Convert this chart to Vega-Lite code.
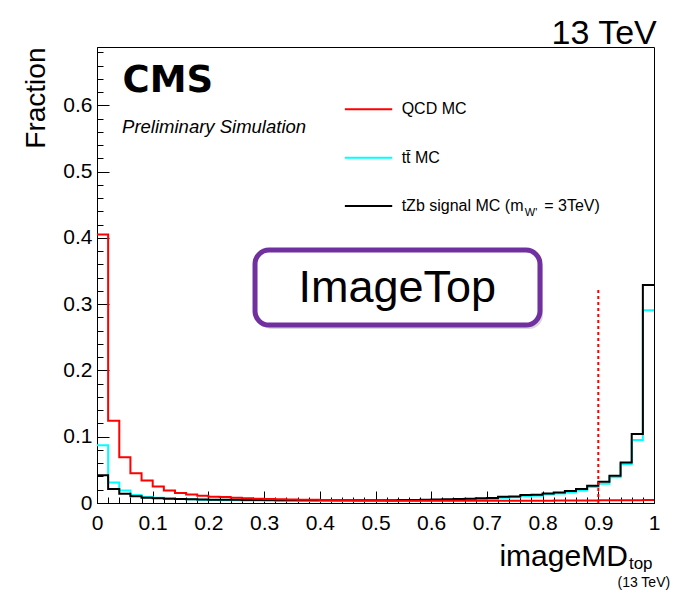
{
  "$schema": "https://vega.github.io/schema/vega-lite/v6.json",
  "width": 557,
  "height": 456,
  "autosize": {"type": "none"},
  "padding": {"left": 97, "top": 47, "right": 21, "bottom": 90},
  "background": "white",
  "config": {
    "view": {"stroke": "black", "strokeWidth": 1},
    "text": {"font": "Liberation Sans", "color": "black"},
    "axis": {"grid": false, "labelFont": "Liberation Sans", "titleFont": "Liberation Sans", "labelColor": "black", "titleColor": "black", "tickColor": "black", "domainColor": "black"}
  },
  "datasets": {
    "one": [{}],
    "hist": [
      {"x": 0.00, "qcd": 0.405, "ttbar": 0.087, "tzb": 0.042},
      {"x": 0.02, "qcd": 0.124, "ttbar": 0.031, "tzb": 0.021},
      {"x": 0.04, "qcd": 0.069, "ttbar": 0.019, "tzb": 0.014},
      {"x": 0.06, "qcd": 0.045, "ttbar": 0.012, "tzb": 0.010},
      {"x": 0.08, "qcd": 0.034, "ttbar": 0.009, "tzb": 0.008},
      {"x": 0.10, "qcd": 0.025, "ttbar": 0.008, "tzb": 0.007},
      {"x": 0.12, "qcd": 0.019, "ttbar": 0.007, "tzb": 0.0065},
      {"x": 0.14, "qcd": 0.015, "ttbar": 0.006, "tzb": 0.006},
      {"x": 0.16, "qcd": 0.013, "ttbar": 0.0055, "tzb": 0.0055},
      {"x": 0.18, "qcd": 0.011, "ttbar": 0.005, "tzb": 0.0052},
      {"x": 0.20, "qcd": 0.0095, "ttbar": 0.0045, "tzb": 0.005},
      {"x": 0.22, "qcd": 0.009, "ttbar": 0.0042, "tzb": 0.005},
      {"x": 0.24, "qcd": 0.008, "ttbar": 0.004, "tzb": 0.0048},
      {"x": 0.26, "qcd": 0.0072, "ttbar": 0.0038, "tzb": 0.0046},
      {"x": 0.28, "qcd": 0.0066, "ttbar": 0.0036, "tzb": 0.0045},
      {"x": 0.30, "qcd": 0.006, "ttbar": 0.0035, "tzb": 0.0044},
      {"x": 0.32, "qcd": 0.0058, "ttbar": 0.0034, "tzb": 0.0043},
      {"x": 0.34, "qcd": 0.0054, "ttbar": 0.0033, "tzb": 0.0042},
      {"x": 0.36, "qcd": 0.005, "ttbar": 0.0032, "tzb": 0.0041},
      {"x": 0.38, "qcd": 0.0048, "ttbar": 0.0031, "tzb": 0.004},
      {"x": 0.40, "qcd": 0.0045, "ttbar": 0.003, "tzb": 0.004},
      {"x": 0.42, "qcd": 0.0043, "ttbar": 0.003, "tzb": 0.004},
      {"x": 0.44, "qcd": 0.004, "ttbar": 0.003, "tzb": 0.004},
      {"x": 0.46, "qcd": 0.0039, "ttbar": 0.003, "tzb": 0.004},
      {"x": 0.48, "qcd": 0.0037, "ttbar": 0.003, "tzb": 0.0041},
      {"x": 0.50, "qcd": 0.0036, "ttbar": 0.0031, "tzb": 0.0042},
      {"x": 0.52, "qcd": 0.0035, "ttbar": 0.0032, "tzb": 0.0043},
      {"x": 0.54, "qcd": 0.0034, "ttbar": 0.0033, "tzb": 0.0045},
      {"x": 0.56, "qcd": 0.0034, "ttbar": 0.0035, "tzb": 0.0047},
      {"x": 0.58, "qcd": 0.0033, "ttbar": 0.0037, "tzb": 0.005},
      {"x": 0.60, "qcd": 0.0033, "ttbar": 0.004, "tzb": 0.0053},
      {"x": 0.62, "qcd": 0.0033, "ttbar": 0.0043, "tzb": 0.0057},
      {"x": 0.64, "qcd": 0.0033, "ttbar": 0.0047, "tzb": 0.006},
      {"x": 0.66, "qcd": 0.0033, "ttbar": 0.005, "tzb": 0.0065},
      {"x": 0.68, "qcd": 0.0033, "ttbar": 0.0055, "tzb": 0.007},
      {"x": 0.70, "qcd": 0.0033, "ttbar": 0.006, "tzb": 0.0075},
      {"x": 0.72, "qcd": 0.0033, "ttbar": 0.008, "tzb": 0.0095},
      {"x": 0.74, "qcd": 0.0034, "ttbar": 0.0085, "tzb": 0.0098},
      {"x": 0.76, "qcd": 0.0034, "ttbar": 0.0105, "tzb": 0.012},
      {"x": 0.78, "qcd": 0.0035, "ttbar": 0.011, "tzb": 0.0125},
      {"x": 0.80, "qcd": 0.0035, "ttbar": 0.013, "tzb": 0.0145},
      {"x": 0.82, "qcd": 0.0036, "ttbar": 0.0145, "tzb": 0.016},
      {"x": 0.84, "qcd": 0.0037, "ttbar": 0.016, "tzb": 0.018},
      {"x": 0.86, "qcd": 0.0038, "ttbar": 0.019, "tzb": 0.021},
      {"x": 0.88, "qcd": 0.0039, "ttbar": 0.024, "tzb": 0.026},
      {"x": 0.90, "qcd": 0.004, "ttbar": 0.029, "tzb": 0.032},
      {"x": 0.92, "qcd": 0.004, "ttbar": 0.039, "tzb": 0.041},
      {"x": 0.94, "qcd": 0.004, "ttbar": 0.059, "tzb": 0.061},
      {"x": 0.96, "qcd": 0.0042, "ttbar": 0.095, "tzb": 0.104},
      {"x": 0.98, "qcd": 0.0045, "ttbar": 0.291, "tzb": 0.329},
      {"x": 1.00, "qcd": 0.0045, "ttbar": 0.291, "tzb": 0.329}
    ]
  },
  "data": {"name": "one"},
  "resolve": {"axis": {"x": "independent", "y": "independent"}},
  "layer": [
    {
      "data": {"name": "hist"},
      "transform": [{"fold": ["ttbar", "tzb", "qcd"], "as": ["sample", "fraction"]}],
      "mark": {"type": "line", "interpolate": "step-after", "strokeWidth": 2},
      "encoding": {
        "x": {"field": "x", "type": "quantitative",
          "scale": {"domain": [0, 1], "nice": false},
          "axis": {"values": [0, 0.1, 0.2, 0.3, 0.4, 0.5, 0.6, 0.7, 0.8, 0.9, 1], "format": "~g", "tickSize": -12, "labelPadding": 21, "labelFontSize": 21, "labelFlush": false, "title": null, "orient": "bottom"}},
        "y": {"field": "fraction", "type": "quantitative",
          "scale": {"domain": [0, 0.688], "nice": false},
          "axis": {"values": [0, 0.1, 0.2, 0.3, 0.4, 0.5, 0.6], "format": "~g", "tickSize": -12, "labelPadding": 17, "labelFontSize": 21, "labelFlush": false, "title": "Fraction", "titleAnchor": "end", "titleFontSize": 28, "titleFontWeight": "normal", "titlePadding": 12, "orient": "left"}},
        "color": {"field": "sample", "type": "nominal",
          "scale": {"domain": ["qcd", "ttbar", "tzb"], "range": ["#ff0000", "#00ffff", "#000000"]},
          "legend": null}
      }
    },
    {
      "mark": {"type": "rule", "color": "#ff0000", "strokeWidth": 2, "strokeDash": [3, 3]},
      "encoding": {
        "x": {"datum": 0.9, "type": "quantitative",
          "axis": {"values": [0, 0.02, 0.04, 0.06, 0.08, 0.1, 0.12, 0.14, 0.16, 0.18, 0.2, 0.22, 0.24, 0.26, 0.28, 0.3, 0.32, 0.34, 0.36, 0.38, 0.4, 0.42, 0.44, 0.46, 0.48, 0.5, 0.52, 0.54, 0.56, 0.58, 0.6, 0.62, 0.64, 0.66, 0.68, 0.7, 0.72, 0.74, 0.76, 0.78, 0.8, 0.82, 0.84, 0.86, 0.88, 0.9, 0.92, 0.94, 0.96, 0.98, 1], "labels": false, "tickSize": -6, "domain": false, "title": null, "orient": "bottom"}},
        "y": {"datum": 0, "type": "quantitative",
          "axis": {"values": [0, 0.02, 0.04, 0.06, 0.08, 0.1, 0.12, 0.14, 0.16, 0.18, 0.2, 0.22, 0.24, 0.26, 0.28, 0.3, 0.32, 0.34, 0.36, 0.38, 0.4, 0.42, 0.44, 0.46, 0.48, 0.5, 0.52, 0.54, 0.56, 0.58, 0.6, 0.62, 0.64, 0.66, 0.68], "labels": false, "tickSize": -6, "domain": false, "title": null, "orient": "left"}},
        "y2": {"datum": 0.322}
      }
    },
    {
      "mark": {"type": "rect", "cornerRadius": 14, "fill": "#000000", "fillOpacity": 0.15},
      "encoding": {
        "x": {"datum": 0.2891, "type": "quantitative", "axis": null},
        "x2": {"datum": 0.8007},
        "y": {"datum": 0.3756, "type": "quantitative", "axis": null},
        "y2": {"datum": 0.2625}
      }
    },
    {
      "mark": {"type": "rect", "cornerRadius": 14, "fill": "white", "stroke": "#7030a0", "strokeWidth": 5},
      "encoding": {
        "x": {"datum": 0.2837, "type": "quantitative", "axis": null},
        "x2": {"datum": 0.7953},
        "y": {"datum": 0.3816, "type": "quantitative", "axis": null},
        "y2": {"datum": 0.2685}
      }
    },
    {
      "mark": {"type": "text", "text": "ImageTop", "fontSize": 45, "align": "center", "baseline": "middle"},
      "encoding": {
        "x": {"datum": 0.539, "type": "quantitative", "axis": null},
        "y": {"datum": 0.325, "type": "quantitative", "axis": null}
      }
    },
    {
      "mark": {"type": "text", "text": "CMS", "font": "DejaVu Sans", "fontWeight": "bold", "fontSize": 37, "align": "left", "baseline": "alphabetic"},
      "encoding": {
        "x": {"datum": 0.046, "type": "quantitative", "axis": null},
        "y": {"datum": 0.62, "type": "quantitative", "axis": null}
      }
    },
    {
      "mark": {"type": "text", "text": "Preliminary Simulation", "fontStyle": "italic", "fontSize": 18.5, "align": "left", "baseline": "alphabetic"},
      "encoding": {
        "x": {"datum": 0.045, "type": "quantitative", "axis": null},
        "y": {"datum": 0.5576, "type": "quantitative", "axis": null}
      }
    },
    {
      "mark": {"type": "text", "text": "13 TeV", "fontSize": 34, "align": "right", "baseline": "alphabetic"},
      "encoding": {
        "x": {"datum": 1.005, "type": "quantitative", "axis": null},
        "y": {"datum": 0.692, "type": "quantitative", "axis": null}
      }
    },
    {
      "mark": {"type": "rule", "color": "#ff0000", "strokeWidth": 2},
      "encoding": {
        "x": {"datum": 0.445, "type": "quantitative", "axis": null},
        "x2": {"datum": 0.530},
        "y": {"datum": 0.594, "type": "quantitative", "axis": null}
      }
    },
    {
      "mark": {"type": "rule", "color": "#00ffff", "strokeWidth": 2},
      "encoding": {
        "x": {"datum": 0.445, "type": "quantitative", "axis": null},
        "x2": {"datum": 0.530},
        "y": {"datum": 0.521, "type": "quantitative", "axis": null}
      }
    },
    {
      "mark": {"type": "rule", "color": "#000000", "strokeWidth": 2},
      "encoding": {
        "x": {"datum": 0.445, "type": "quantitative", "axis": null},
        "x2": {"datum": 0.530},
        "y": {"datum": 0.448, "type": "quantitative", "axis": null}
      }
    },
    {
      "mark": {"type": "text", "text": "QCD MC", "fontSize": 16, "align": "left", "baseline": "middle"},
      "encoding": {
        "x": {"datum": 0.547, "type": "quantitative", "axis": null},
        "y": {"datum": 0.594, "type": "quantitative", "axis": null}
      }
    },
    {
      "mark": {"type": "text", "text": "tt̄ MC", "fontSize": 16, "align": "left", "baseline": "middle"},
      "encoding": {
        "x": {"datum": 0.547, "type": "quantitative", "axis": null},
        "y": {"datum": 0.521, "type": "quantitative", "axis": null}
      }
    },
    {
      "mark": {"type": "text", "text": "tZb signal MC (m", "fontSize": 16, "align": "left", "baseline": "middle"},
      "encoding": {
        "x": {"datum": 0.547, "type": "quantitative", "axis": null},
        "y": {"datum": 0.448, "type": "quantitative", "axis": null}
      }
    },
    {
      "mark": {"type": "text", "text": "W'", "fontSize": 11, "align": "left", "baseline": "middle"},
      "encoding": {
        "x": {"datum": 0.768, "type": "quantitative", "axis": null},
        "y": {"datum": 0.437, "type": "quantitative", "axis": null}
      }
    },
    {
      "mark": {"type": "text", "text": "= 3TeV)", "fontSize": 16, "align": "left", "baseline": "middle"},
      "encoding": {
        "x": {"datum": 0.803, "type": "quantitative", "axis": null},
        "y": {"datum": 0.448, "type": "quantitative", "axis": null}
      }
    },
    {
      "mark": {"type": "text", "text": "imageMD", "fontSize": 30, "align": "right", "baseline": "alphabetic"},
      "encoding": {
        "x": {"datum": 0.953, "type": "quantitative", "axis": null},
        "y": {"datum": -0.095, "type": "quantitative", "axis": null}
      }
    },
    {
      "mark": {"type": "text", "text": "top", "fontSize": 17, "align": "left", "baseline": "alphabetic"},
      "encoding": {
        "x": {"datum": 0.955, "type": "quantitative", "axis": null},
        "y": {"datum": -0.1, "type": "quantitative", "axis": null}
      }
    },
    {
      "mark": {"type": "text", "text": "(13 TeV)", "fontSize": 14, "align": "right", "baseline": "alphabetic"},
      "encoding": {
        "x": {"datum": 1.029, "type": "quantitative", "axis": null},
        "y": {"datum": -0.126, "type": "quantitative", "axis": null}
      }
    }
  ]
}
